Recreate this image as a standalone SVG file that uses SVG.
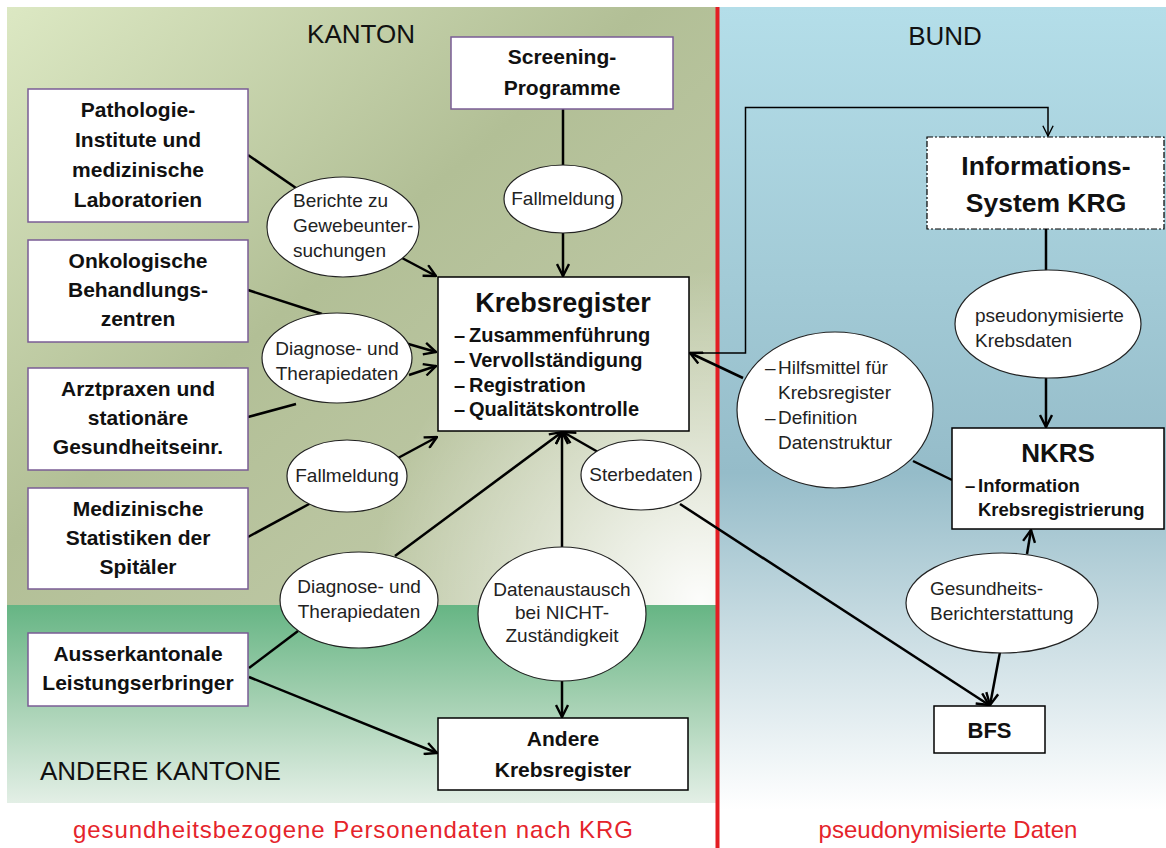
<svg xmlns="http://www.w3.org/2000/svg" width="1166" height="848" viewBox="0 0 1166 848">
<defs>
<linearGradient id="gK" x1="0" y1="0" x2="1" y2="1">
<stop offset="0" stop-color="#dce8c3"/>
<stop offset="0.45" stop-color="#b2bf96"/>
<stop offset="1" stop-color="#c6ceb0"/>
</linearGradient>
<radialGradient id="gKw" gradientUnits="userSpaceOnUse" cx="700" cy="600" r="330">
<stop offset="0" stop-color="#ffffff" stop-opacity="0.95"/>
<stop offset="0.5" stop-color="#ffffff" stop-opacity="0.45"/>
<stop offset="1" stop-color="#ffffff" stop-opacity="0"/>
</radialGradient>
<linearGradient id="gA" x1="0" y1="0" x2="0" y2="1">
<stop offset="0" stop-color="#66b584"/>
<stop offset="0.5" stop-color="#a6d1b3"/>
<stop offset="1" stop-color="#e3efe6"/>
</linearGradient>
<linearGradient id="gB" x1="0" y1="0" x2="0" y2="1">
<stop offset="0" stop-color="#b4dee9"/>
<stop offset="0.35" stop-color="#a2cad6"/>
<stop offset="0.58" stop-color="#95bcc9"/>
<stop offset="0.78" stop-color="#cadde3"/>
<stop offset="1" stop-color="#ffffff"/>
</linearGradient>
<marker id="arr" markerUnits="userSpaceOnUse" viewBox="0 0 14 14" refX="13" refY="7" markerWidth="14" markerHeight="14" orient="auto">
<path d="M1,1 L13,7 L1,13" fill="none" stroke="#000" stroke-width="2.4"/>
</marker>
<marker id="arrT" markerUnits="userSpaceOnUse" viewBox="0 0 14 14" refX="13" refY="7" markerWidth="12" markerHeight="12" orient="auto">
<path d="M1,1 L13,7 L1,13" fill="none" stroke="#000" stroke-width="1.6"/>
</marker>
</defs>
<style>
.c{stroke:#000;stroke-width:2.5;fill:none}
.ca{stroke:#000;stroke-width:2.5;fill:none;marker-end:url(#arr)}
.bp{fill:#fff;stroke:#7a5c95;stroke-width:1.5}
.bk{fill:#fff;stroke:#000;stroke-width:1.5}
.el{fill:#fff;stroke:#222;stroke-width:1.2}
.tb{font-family:"Liberation Sans",Arial,sans-serif;font-weight:bold;font-size:21px;fill:#111;text-anchor:middle}
.te{font-family:"Liberation Sans",Arial,sans-serif;font-size:19px;fill:#222}
.tm{text-anchor:middle}
.reg{font-family:"Liberation Sans",Arial,sans-serif;font-size:26px;fill:#111}
.red{font-family:"Liberation Sans",Arial,sans-serif;font-size:24px;fill:#e5242b;text-anchor:middle}
</style>
<rect width="1166" height="848" fill="#fff"/>
<g id="backgrounds">
<rect x="7" y="7" width="710" height="598" fill="url(#gK)"/>
<rect x="7" y="7" width="710" height="598" fill="url(#gKw)"/>
<rect x="7" y="605" width="710" height="198" fill="url(#gA)"/>
<rect x="719" y="7" width="447" height="803" fill="url(#gB)"/>
<line x1="717.5" y1="7" x2="717.5" y2="848" stroke="#e31e24" stroke-width="4"/>
</g>
<g id="labels">
<text class="reg tm" x="361" y="43">KANTON</text>
<text class="reg tm" x="945" y="45">BUND</text>
<text class="reg" x="40" y="780">ANDERE KANTONE</text>
<text class="red" x="353" y="838" textLength="560" lengthAdjust="spacing">gesundheitsbezogene  Personendaten nach KRG</text>
<text class="red" x="948" y="838">pseudonymisierte  Daten</text>
</g>
<g id="connectors">
<line class="c" x1="248" y1="155" x2="296" y2="188"/>
<line class="ca" x1="402" y1="258" x2="436" y2="276"/>
<line class="c" x1="248" y1="290" x2="322" y2="314"/>
<line class="ca" x1="405" y1="343" x2="436" y2="352"/>
<line class="c" x1="248" y1="417" x2="296" y2="404"/>
<line class="ca" x1="409" y1="375" x2="436" y2="366"/>
<line class="c" x1="248" y1="537" x2="311" y2="503"/>
<line class="ca" x1="398" y1="458" x2="437" y2="437"/>
<line class="c" x1="249" y1="668" x2="298" y2="631"/>
<line class="ca" x1="395" y1="556" x2="562" y2="432"/>
<line class="ca" x1="249" y1="677" x2="437" y2="753"/>
<line class="c" x1="563" y1="109" x2="563" y2="166"/>
<line class="ca" x1="563" y1="232" x2="563" y2="276"/>
<line class="ca" x1="562" y1="548" x2="562" y2="432"/>
<line class="ca" x1="562" y1="681" x2="562" y2="717"/>
<line class="ca" x1="598" y1="452" x2="563" y2="432"/>
<line class="ca" x1="680" y1="504" x2="989" y2="705"/>
<line class="ca" x1="743" y1="378" x2="690" y2="353"/>
<line class="c" x1="913" y1="461" x2="952" y2="480"/>
<line class="c" x1="1046" y1="229" x2="1046" y2="271"/>
<line class="ca" x1="1046" y1="377" x2="1046" y2="427"/>
<line class="ca" x1="1027" y1="554" x2="1031" y2="530"/>
<line class="ca" x1="1000" y1="652" x2="990" y2="705"/>
<path d="M689,353 H745.5 V107.5 H1048 V136" fill="none" stroke="#000" stroke-width="1.5" marker-end="url(#arrT)"/>
</g>
<g id="pathologie">
<rect class="bp" x="28" y="89" width="220" height="133"/>
<text class="tb" x="138" y="117">Pathologie-</text>
<text class="tb" x="138" y="147">Institute und</text>
<text class="tb" x="138" y="177">medizinische</text>
<text class="tb" x="138" y="207">Laboratorien</text>
</g>
<g id="onkologie">
<rect class="bp" x="28" y="240" width="220" height="102"/>
<text class="tb" x="138" y="268">Onkologische</text>
<text class="tb" x="138" y="297">Behandlungs-</text>
<text class="tb" x="138" y="326">zentren</text>
</g>
<g id="arztpraxen">
<rect class="bp" x="28" y="368" width="220" height="102"/>
<text class="tb" x="138" y="396">Arztpraxen und</text>
<text class="tb" x="138" y="425">stationäre</text>
<text class="tb" x="138" y="454">Gesundheitseinr.</text>
</g>
<g id="medstat">
<rect class="bp" x="28" y="488" width="220" height="101"/>
<text class="tb" x="138" y="516">Medizinische</text>
<text class="tb" x="138" y="545">Statistiken der</text>
<text class="tb" x="138" y="574">Spitäler</text>
</g>
<g id="ausserkantonale">
<rect class="bp" x="28" y="633" width="220" height="73"/>
<text class="tb" x="138" y="661">Ausserkantonale</text>
<text class="tb" x="138" y="690">Leistungserbringer</text>
</g>
<g id="screening">
<rect class="bp" x="451" y="37" width="222" height="72"/>
<text class="tb" x="562" y="64">Screening-</text>
<text class="tb" x="562" y="95">Programme</text>
</g>
<g id="krebsregister">
<rect class="bk" x="438" y="277" width="251" height="154"/>
<text class="tb" x="563" y="312" style="font-size:27px">Krebsregister</text>
<g style="font-family:'Liberation Sans',Arial,sans-serif;font-weight:bold;font-size:20px;fill:#111">
<text x="454" y="342">–</text><text x="469" y="342">Zusammenführung</text>
<text x="454" y="367">–</text><text x="469" y="367">Vervollständigung</text>
<text x="454" y="392">–</text><text x="469" y="392">Registration</text>
<text x="454" y="416">–</text><text x="469" y="416">Qualitätskontrolle</text>
</g>
</g>
<g id="andere-krebsregister">
<rect class="bk" x="438" y="718" width="250" height="72"/>
<text class="tb" x="563" y="746">Andere</text>
<text class="tb" x="563" y="777">Krebsregister</text>
</g>
<g id="informationssystem">
<rect x="927" y="137" width="237" height="92" fill="#fff" stroke="#000" stroke-width="1.2" stroke-dasharray="6 2 2 2"/>
<text class="tb" x="1046" y="175" style="font-size:26.5px">Informations-</text>
<text class="tb" x="1046" y="212" style="font-size:26.5px">System KRG</text>
</g>
<g id="nkrs">
<rect class="bk" x="952" y="428" width="212" height="101"/>
<text class="tb" x="1058" y="462" style="font-size:26px">NKRS</text>
<g style="font-family:'Liberation Sans',Arial,sans-serif;font-weight:bold;font-size:18.5px;fill:#111">
<text x="965" y="492">–</text><text x="978" y="492">Information</text>
<text x="978" y="516">Krebsregistrierung</text>
</g>
</g>
<g id="bfs">
<rect class="bk" x="934" y="706" width="111" height="47"/>
<text class="tb" x="989.5" y="738" style="font-size:22px">BFS</text>
</g>
<g id="e-berichte">
<ellipse class="el" cx="343" cy="227" rx="76" ry="50"/>
<text class="te" x="293" y="207">Berichte zu</text>
<text class="te" x="293" y="232">Gewebeunter-</text>
<text class="te" x="293" y="257">suchungen</text>
</g>
<g id="e-diagnose1">
<ellipse class="el" cx="337" cy="358" rx="75" ry="45"/>
<text class="te tm" x="337" y="355">Diagnose- und</text>
<text class="te tm" x="337" y="380">Therapiedaten</text>
</g>
<g id="e-fallmeldung1">
<ellipse class="el" cx="347" cy="476" rx="60" ry="36"/>
<text class="te tm" x="347" y="482">Fallmeldung</text>
</g>
<g id="e-diagnose2">
<ellipse class="el" cx="359" cy="600" rx="79" ry="48"/>
<text class="te tm" x="359" y="593">Diagnose- und</text>
<text class="te tm" x="359" y="618">Therapiedaten</text>
</g>
<g id="e-fallmeldung2">
<ellipse class="el" cx="563" cy="199" rx="59" ry="34"/>
<text class="te tm" x="563" y="205">Fallmeldung</text>
</g>
<g id="e-sterbedaten">
<ellipse class="el" cx="641" cy="475" rx="60" ry="35"/>
<text class="te tm" x="641" y="481">Sterbedaten</text>
</g>
<g id="e-datenaustausch">
<ellipse class="el" cx="562" cy="614" rx="84" ry="67"/>
<text class="te tm" x="562" y="596">Datenaustausch</text>
<text class="te tm" x="562" y="619">bei NICHT-</text>
<text class="te tm" x="562" y="642">Zuständigkeit</text>
</g>
<g id="e-hilfsmittel">
<ellipse class="el" cx="835" cy="410" rx="98" ry="78"/>
<text class="te" x="765" y="374">–</text><text class="te" x="778" y="374">Hilfsmittel für</text>
<text class="te" x="778" y="399">Krebsregister</text>
<text class="te" x="765" y="424">–</text><text class="te" x="778" y="424">Definition</text>
<text class="te" x="778" y="449">Datenstruktur</text>
</g>
<g id="e-pseudonym">
<ellipse class="el" cx="1048" cy="324" rx="93" ry="54"/>
<text class="te" x="975" y="322">pseudonymisierte</text>
<text class="te" x="975" y="347">Krebsdaten</text>
</g>
<g id="e-gesundheit">
<ellipse class="el" cx="1002" cy="603" rx="96" ry="50"/>
<text class="te" x="930" y="595">Gesundheits-</text>
<text class="te" x="930" y="620">Berichterstattung</text>
</g>
</svg>
